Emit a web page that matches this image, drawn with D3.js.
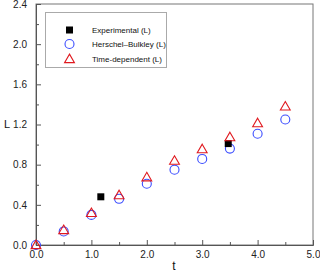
<!DOCTYPE html>
<html>
<head>
<meta charset="utf-8">
<script src="https://cdn.jsdelivr.net/npm/d3@7"></script>
<style>
  body { margin: 0; background: #fff; }
  text { font-family: "Liberation Sans", Arial, sans-serif; }
</style>
</head>
<body>
<script>
// experimental points (t, L)
var expT = [1.17, 3.47];
var expL = [0.48, 1.01];

// model curves at t = 0, 0.5, ... 4.5
var modelT = [0, 0.5, 1.0, 1.5, 2.0, 2.5, 3.0, 3.5, 4.0, 4.5];
var hbL = [0.0, 0.135, 0.30, 0.46, 0.61, 0.75, 0.857, 0.96, 1.108, 1.25];
var tdL = [0.0, 0.15, 0.32, 0.497, 0.675, 0.84, 0.955, 1.075, 1.214, 1.38];

var xTicks = [0, 1, 2, 3, 4, 5];
var yTicks = [0, 0.4, 0.8, 1.2, 1.6, 2.0, 2.4];
var legendNames = ["Experimental (L)", "Herschel\u2013Bulkley (L)", "Time-dependent (L)"];

var width = 320, height = 273;
var margin = {left: 36, right: 7, top: 4, bottom: 28};
var w = width - margin.left - margin.right;
var h = height - margin.top - margin.bottom;

var x = d3.scaleLinear().domain([0, 5]).range([0, w]);
var y = d3.scaleLinear().domain([0, 2.4]).range([h, 0]);

var svg = d3.select("body").append("svg")
    .attr("width", width)
    .attr("height", height);

var g = svg.append("g")
    .attr("transform", "translate(" + margin.left + "," + margin.top + ")");

// frame
g.append("rect")
    .attr("width", w).attr("height", h)
    .attr("fill", "none").attr("stroke", "#777").attr("stroke-width", 1);

var xAxis = d3.axisBottom(x).tickValues(xTicks).tickFormat(d3.format(".1f"))
    .tickSizeInner(-5).tickSizeOuter(0).tickPadding(6);
var xMinor = d3.axisBottom(x).tickValues(d3.range(0.5, 5, 1)).tickFormat("")
    .tickSizeInner(-3).tickSizeOuter(0);
var yAxis = d3.axisLeft(y).tickValues(yTicks).tickFormat(d3.format(".1f"))
    .tickSizeInner(-5).tickSizeOuter(0).tickPadding(9);
var yMinor = d3.axisLeft(y).tickValues(d3.range(0.2, 2.4, 0.4)).tickFormat("")
    .tickSizeInner(-3).tickSizeOuter(0);

function style(sel) {
  sel.select(".domain").attr("stroke", "#555");
  sel.selectAll(".tick line").attr("stroke", "#555");
  sel.selectAll(".tick text").attr("fill", "#222").style("font-size", "10px")
     .style("font-family", "'Liberation Sans', Arial, sans-serif");
}

g.append("g").attr("transform", "translate(0," + h + ")").call(xAxis).call(style);
g.append("g").attr("transform", "translate(0," + h + ")").call(xMinor).call(style);
g.append("g").call(yAxis).call(style);
g.append("g").call(yMinor).call(style);

// axis titles
svg.append("text").attr("x", 174).attr("y", 270).attr("text-anchor", "middle")
    .style("font-size", "12px").attr("fill", "#111").text("t");
svg.append("text").attr("x", 7).attr("y", 128).attr("text-anchor", "middle")
    .style("font-size", "11px").attr("fill", "#111").text("L");

var blue = "#3a4cff", red = "#e0191f";
var triangle = d3.symbol().type(d3.symbolTriangle).size(42);

// Herschel-Bulkley circles
g.selectAll(".hb").data(modelT).enter().append("circle")
    .attr("cx", function(d) { return x(d); })
    .attr("cy", function(d, i) { return y(hbL[i]); })
    .attr("r", 4.5).attr("fill", "none").attr("stroke", blue).attr("stroke-width", 1.1);

// experimental squares
g.selectAll(".ex").data(expT).enter().append("rect")
    .attr("x", function(d) { return x(d) - 3.5; })
    .attr("y", function(d, i) { return y(expL[i]) - 3.5; })
    .attr("width", 7).attr("height", 7).attr("fill", "#000");

// time-dependent triangles
g.selectAll(".td").data(modelT).enter().append("path")
    .attr("d", triangle)
    .attr("transform", function(d, i) { return "translate(" + x(d) + "," + (y(tdL[i]) + 0.8) + ")"; })
    .attr("fill", "none").attr("stroke", red).attr("stroke-width", 1.1);

// legend
var lg = svg.append("g");
lg.append("rect").attr("x", 45.5).attr("y", 12.5).attr("width", 121).attr("height", 55)
    .attr("fill", "#fff").attr("stroke", "#aaa");
var rows = [30, 44, 59];
lg.append("rect").attr("x", 69.5 - 3.5).attr("y", rows[0] - 3.5).attr("width", 7).attr("height", 7).attr("fill", "#000");
lg.append("circle").attr("cx", 69.5).attr("cy", rows[1]).attr("r", 4.5)
    .attr("fill", "none").attr("stroke", blue).attr("stroke-width", 1.1);
lg.append("path").attr("d", triangle).attr("transform", "translate(69.5," + (rows[2] + 0.8) + ")")
    .attr("fill", "none").attr("stroke", red).attr("stroke-width", 1.1);
lg.selectAll(".lt").data(legendNames).enter().append("text")
    .attr("x", 92).attr("y", function(d, i) { return rows[i] + 3; })
    .style("font-size", "8px").attr("fill", "#111").text(function(d) { return d; });
</script>
</body>
</html>
